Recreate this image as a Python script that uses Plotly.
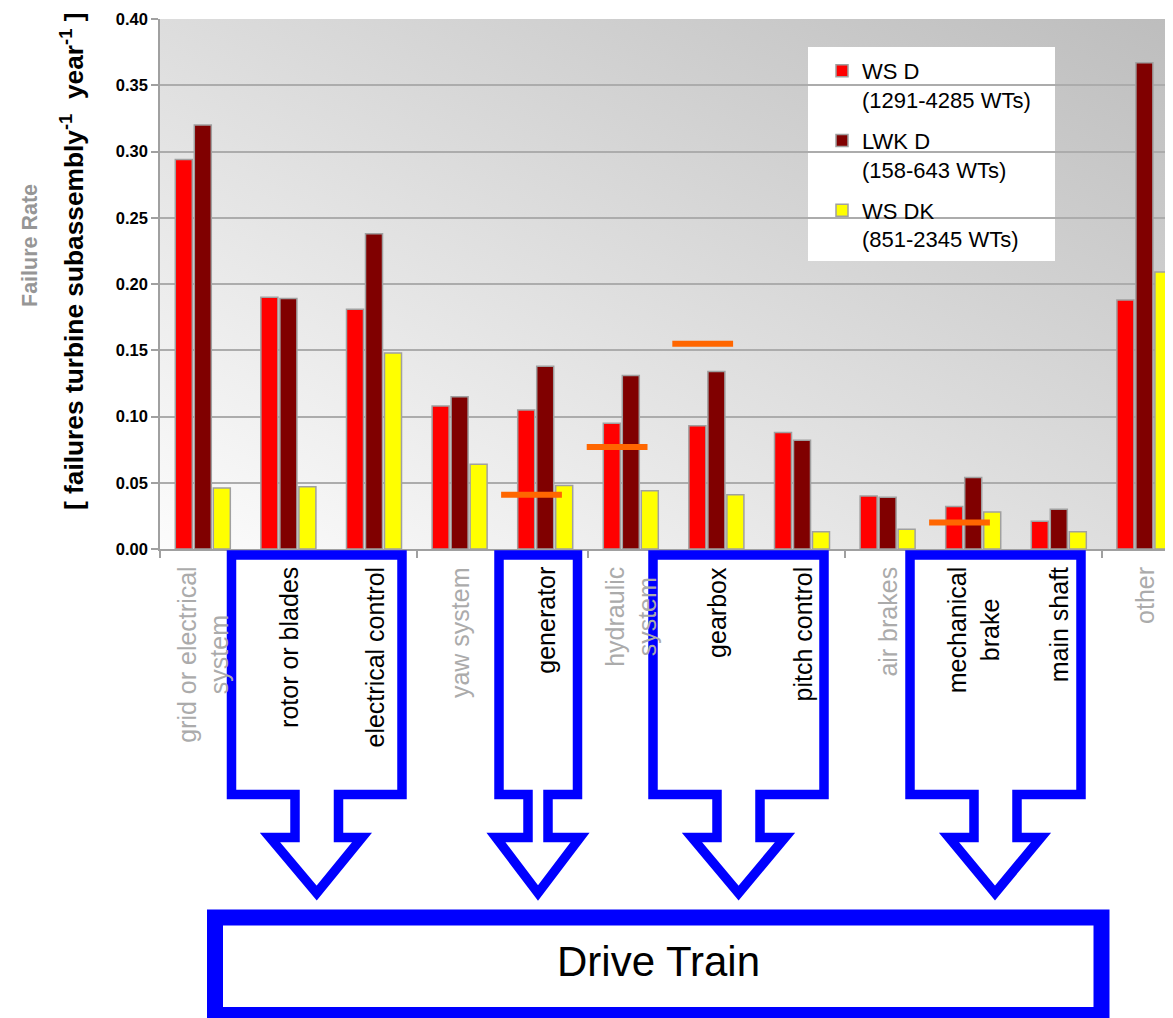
import base64
import plotly.graph_objects as go

# ---------------- data ----------------
categories = ["grid or electrical<br>system", "rotor or blades", "electrical control",
              "yaw system", "generator", "hydraulic<br>system", "gearbox",
              "pitch control", "air brakes", "mechanical<br>brake", "main shaft", "other"]
in_drive_train = [False, True, True, False, True, False, True, True, False, True, True, False]

ws_d = [0.294, 0.190, 0.181, 0.108, 0.105, 0.095, 0.093, 0.088, 0.040, 0.032, 0.021, 0.188]
lwk_d = [0.320, 0.189, 0.238, 0.115, 0.138, 0.131, 0.134, 0.082, 0.039, 0.054, 0.030, 0.367]
ws_dk = [0.046, 0.047, 0.148, 0.064, 0.048, 0.044, 0.041, 0.013, 0.015, 0.028, 0.013, 0.209]
benchmark = [None, None, None, None, 0.041, 0.077, 0.155, None, None, 0.020, None, None]

series_names = ["WS D<br>(1291-4285 WTs)", "LWK D<br>(158-643 WTs)", "WS DK<br>(851-2345 WTs)"]
series_colors = ["#FF0000", "#800000", "#FFFF00"]
y_ticks = [0.00, 0.05, 0.10, 0.15, 0.20, 0.25, 0.30, 0.35, 0.40]

# ---------------- layout geometry (page pixels) ----------------
W, H = 1173, 1018
BODY = 8  # default page body margin
L, R, T, B = 160, 1173, 19, 549
PW, PH = R - L, B - T


def px(x):
    return (x - L) / PW


def py(y):
    return (B - y) / PH


idx = list(range(len(categories)))
fig = go.Figure()
for name, vals, col in zip(series_names, [ws_d, lwk_d, ws_dk], series_colors):
    fig.add_trace(go.Bar(x=idx, y=vals, name=name, legendgroup=name,
                         marker=dict(color=col, line=dict(color="#a0a0a0", width=1.5))))

# orange benchmark markers
bx, by = [], []
for i, v in enumerate(benchmark):
    if v is not None:
        bx += [i - 0.16 - 0.355, i - 0.16 + 0.355, None]
        by += [v, v, None]
fig.add_trace(go.Scatter(x=bx, y=by, mode="lines", showlegend=False,
                         line=dict(color="#FF6600", width=6), hoverinfo="skip"))

# gradient background as svg image
svg = ('<svg xmlns="http://www.w3.org/2000/svg" width="100" height="100" preserveAspectRatio="none">'
       '<defs><linearGradient id="g" x1="0" y1="1" x2="1" y2="0">'
       '<stop offset="0" stop-color="#fcfcfc"/><stop offset="1" stop-color="#bdbdbd"/>'
       '</linearGradient></defs><rect width="100" height="100" fill="url(#g)"/></svg>')
src = "data:image/svg+xml;base64," + base64.b64encode(svg.encode()).decode()

shapes = []
# legend box
shapes.append(dict(type="rect", xref="paper", yref="paper", layer="between",
                   x0=px(808), x1=px(1055), y0=py(261), y1=py(47),
                   fillcolor="white", line=dict(width=0)))


def arrow(left, right, sl, sr, hl, hr, tip):
    top, bot, ht, ty = 555, 794.5, 837.5, 893
    pts = [(left, top), (right, top), (right, bot), (sr, bot), (sr, ht), (hr, ht),
           (tip, ty), (hl, ht), (sl, ht), (sl, bot), (left, bot)]
    p = "M " + " L ".join(f"{px(a):.5f},{py(b):.5f}" for a, b in pts) + " Z"
    return dict(type="path", xref="paper", yref="paper", path=p, layer="above",
                line=dict(color="#0000FF", width=9.5), fillcolor="rgba(0,0,0,0)")


shapes.append(arrow(231.5, 402, 295, 338.5, 270, 362, 316.7))
shapes.append(arrow(499, 577.5, 528, 548, 496, 580, 538))
shapes.append(arrow(653, 824, 717, 760, 692, 785, 738.6))
shapes.append(arrow(910, 1081, 974, 1017, 949, 1041, 995))
shapes.append(dict(type="rect", xref="paper", yref="paper", layer="above",
                   x0=px(215), x1=px(1101.5), y0=py(1015), y1=py(917.5),
                   line=dict(color="#0000FF", width=16), fillcolor="white"))

annotations = []
for i, (c, inside) in enumerate(zip(categories, in_drive_train)):
    annotations.append(dict(x=i, xref="x", y=py(565), yref="paper", text=c,
                            showarrow=False, textangle=-90, xanchor="center", yanchor="top",
                            align="center",
                            font=dict(family="Liberation Sans, Arial", size=25,
                                      color="#000000" if inside else "#ababab")))
annotations.append(dict(x=px(658), y=py(961), xref="paper", yref="paper", text="Drive Train",
                        showarrow=False, xanchor="center", yanchor="middle",
                        font=dict(family="Liberation Sans, Arial", size=42, color="black")))
annotations.append(dict(x=px(30), y=py(246), xref="paper", yref="paper", text="Failure Rate",
                        showarrow=False, textangle=-90, xanchor="center", yanchor="middle",
                        font=dict(family="Liberation Sans, Arial", size=21.5, color="#969696",
                                  weight="bold")))
annotations.append(dict(x=px(72), y=py(261), xref="paper", yref="paper",
                        text="[ failures turbine subassembly<sup>-1</sup>  year<sup>-1</sup> ]",
                        showarrow=False, textangle=-90, xanchor="center", yanchor="middle",
                        font=dict(family="Liberation Sans, Arial", size=26.3, color="black",
                                  weight="bold")))

fig.update_layout(
    width=W - BODY, height=H - BODY, autosize=False,
    margin=dict(l=L - BODY, r=W - R, t=T - BODY, b=H - B, pad=0),
    paper_bgcolor="white", plot_bgcolor="rgba(0,0,0,0)",
    barmode="group", bargap=0.334, bargroupgap=0.105,
    images=[dict(source=src, xref="paper", yref="paper", x=0, y=1, sizex=1, sizey=1,
                 sizing="stretch", layer="below", xanchor="left", yanchor="top")],
    shapes=shapes, annotations=annotations,
    legend=dict(x=px(822), y=py(50), xanchor="left", yanchor="top",
                bgcolor="rgba(0,0,0,0)", valign="top", tracegroupgap=9.5,
                font=dict(family="Liberation Sans, Arial", size=22, color="black")),
    xaxis=dict(range=[-0.5, 11.334], showticklabels=False, ticks="", showgrid=False,
               zeroline=False, showline=True, linecolor="#a0a0a0", linewidth=1.5,
               minor=dict(ticks="outside", tick0=-0.5, dtick=1, ticklen=7,
                          tickcolor="#a0a0a0", tickwidth=1.5, showgrid=False)),
    yaxis=dict(range=[0, 0.40], tickvals=y_ticks, tickformat=".2f",
               ticks="outside", ticklen=7, tickcolor="#a0a0a0", tickwidth=1.5,
               showgrid=True, gridcolor="#acacac", gridwidth=1.5, zeroline=False,
               showline=True, linecolor="#a0a0a0", linewidth=1.5,
               tickfont=dict(family="Liberation Sans, Arial", size=16.5, color="black",
                             weight="bold")),
)

fig.write_html("out.html")
